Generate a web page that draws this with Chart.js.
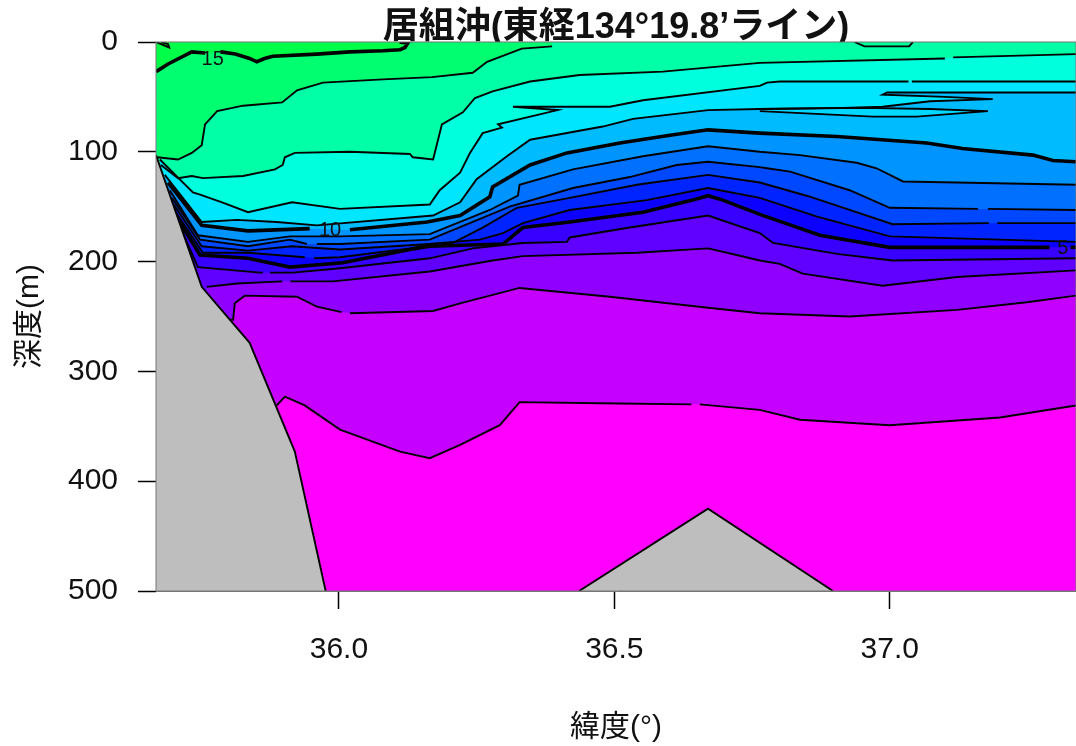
<!DOCTYPE html>
<html>
<head>
<meta charset="utf-8">
<title>居組沖</title>
<script src="https://cdn.jsdelivr.net/npm/chart.js@4"></script>
<style>
  html, body { margin: 0; padding: 0; background: #fff; }
  canvas { display: block; }
</style>
</head>
<body>
<canvas id="sectionChart" width="1076" height="746"></canvas>
<script>
// Isotherms: [latitude, depth] pairs
const t16 = [[35.678,0],[35.690,2],[35.692,5],[35.668,0]];
const t15 = [[35.668,27],[35.690,20],[35.733,9],[35.757,10],[35.785,9],[35.812,11],[35.838,15],[35.851,18],[35.865,15],[35.880,13],[35.960,11],[36.020,9],[36.080,8],[36.111,7],[36.120,5],[36.125,1],[36.110,0],[35.668,0]];
const t14 = [[35.670,105],[35.708,107],[35.733,101],[35.751,94],[35.757,75],[35.779,63],[35.826,58],[35.897,55],[35.924,44],[35.971,37],[36.080,34],[36.169,32],[36.243,28],[36.269,18],[36.332,6],[36.387,4],[36.387,0],[35.668,0]];
const t13 = [[35.677,112],[35.708,124],[35.733,122],[35.753,124],[35.826,122],[35.884,116],[35.898,112],[35.902,105],[35.920,101],[36.020,100],[36.129,102],[36.134,105],[36.171,107],[36.187,75],[36.225,64],[36.247,51],[36.279,45],[36.347,36],[36.437,30],[36.588,27],[36.764,19],[37.100,15],[37.115,14],[37.338,11]];
const t12 = [[35.675,107],[35.735,137],[35.748,139],[35.788,146],[35.835,155],[35.915,146],[36.002,152],[36.165,148],[36.183,135],[36.220,119],[36.238,101],[36.261,83],[36.296,78],[36.289,75],[36.397,62],[36.316,59],[36.492,59],[36.552,53],[36.764,40],[36.777,37],[36.800,36],[37.000,36],[37.034,36],[37.040,36],[37.338,36]];
const t11 = [[35.684,121],[35.751,164],[35.815,162],[35.887,164],[35.960,167],[36.171,158],[36.220,146],[36.250,125],[36.305,104],[36.347,89],[36.479,77],[36.534,70],[36.670,62],[36.764,61],[36.915,60],[36.987,59],[37.073,54],[37.187,52],[37.100,50],[36.987,48],[36.995,46],[37.145,46],[37.241,46],[37.338,46]];
const pocket11 = [[36.764,63],[36.969,68],[37.049,68],[37.178,63],[37.073,61],[36.951,60],[36.764,61]];
const lens = [[36.936,0],[36.954,4],[37.035,4],[37.042,0]];
const t10 = [[35.690,128],[35.751,167],[35.835,172],[35.947,170],[36.002,171],[36.020,171],[36.160,164],[36.220,158],[36.274,141],[36.279,132],[36.347,112],[36.414,101],[36.510,92],[36.601,85],[36.670,80],[36.764,83],[36.904,86],[37.067,92],[37.132,97],[37.260,103],[37.296,108],[37.338,109]];
const t9 = [[35.693,135],[35.744,176],[35.835,182],[35.911,177],[36.002,177],[36.165,175],[36.274,153],[36.325,140],[36.328,130],[36.425,116],[36.552,104],[36.670,95],[36.764,100],[36.837,103],[36.940,110],[36.976,115],[37.024,127],[37.338,130]];
const t8 = [[35.697,142],[35.748,180],[35.835,186],[35.911,180],[35.942,184],[35.960,184],[36.002,184],[36.165,180],[36.310,150],[36.425,133],[36.528,123],[36.613,112],[36.670,109],[36.764,114],[36.777,115],[36.819,118],[36.927,135],[37.000,151],[37.160,152],[37.178,152],[37.338,153]];
const t7 = [[35.700,148],[35.751,186],[35.835,190],[35.915,186],[36.002,189],[36.165,184],[36.207,183],[36.261,169],[36.323,151],[36.419,142],[36.541,130],[36.670,121],[36.764,128],[36.849,140],[36.904,149],[37.005,166],[37.180,165],[37.195,165],[37.338,165]];
const t6 = [[35.705,156],[35.753,192],[35.835,192],[35.938,196],[35.955,197],[36.002,196],[36.129,188],[36.165,184],[36.256,180],[36.298,174],[36.334,165],[36.419,153],[36.559,144],[36.670,133],[36.764,142],[36.868,159],[37.000,177],[37.338,182]];
const t5 = [[35.710,163],[35.748,194],[35.835,197],[35.911,205],[36.007,201],[36.129,189],[36.165,186],[36.298,184],[36.334,169],[36.419,164],[36.552,155],[36.642,144],[36.670,140],[36.697,144],[36.764,157],[36.873,176],[37.000,187],[37.290,187],[37.328,187],[37.338,187]];
const t4 = [[35.715,172],[35.744,205],[35.857,210],[35.862,210],[35.875,210],[35.917,210],[36.002,206],[36.165,197],[36.243,188],[36.334,183],[36.414,182],[36.419,178],[36.528,169],[36.670,158],[36.764,174],[36.788,183],[36.904,193],[37.005,199],[37.338,197]];
const t3 = [[35.760,223],[35.815,220],[35.897,218],[35.912,218],[35.989,218],[36.165,209],[36.279,199],[36.334,195],[36.541,192],[36.670,188],[36.722,194],[36.764,199],[36.800,202],[36.842,211],[36.987,222],[37.122,214],[37.338,208]];
const t2 = [[35.800,253],[35.808,253],[35.811,238],[35.829,231],[35.924,232],[35.960,241],[36.005,246],[36.020,247],[36.171,245],[36.220,238],[36.328,224],[36.492,232],[36.670,242],[36.764,247],[36.927,250],[37.122,244],[37.249,237],[37.338,231]];
const t1 = [[35.870,331],[35.887,331],[35.902,323],[35.938,331],[36.002,353],[36.111,373],[36.165,379],[36.220,367],[36.292,349],[36.328,328],[36.474,329],[36.640,330],[36.655,330],[36.764,335],[36.837,344],[37.000,349],[37.200,342],[37.338,331]];
const seaSurface = [[35.668,0],[37.338,0]];

// Sea bed
const slopeBed = [[35.668,103],[35.751,223],[35.838,274],[35.920,373],[35.976,500],[35.668,500],[35.668,103]];
const ridgeBed = [[36.436,500],[36.670,425],[36.897,500],[36.436,500]];

// Breaks in the isotherms, latitude from / to
const breaks15 = [[35.757, 35.785]];
const breaks13 = [[37.100, 37.115]];
const breaks12 = [[37.034, 37.040]];
const breaks10 = [[35.947, 36.020]];
const breaks8 = [[35.942, 35.960], [37.160, 37.178]];
const breaks7 = [[37.180, 37.195]];
const breaks6 = [[35.938, 35.955]];
const breaks5 = [[37.290, 37.328]];
const breaks4 = [[35.862, 35.875]];
const breaks3 = [[35.897, 35.912]];
const breaks2 = [[36.005, 36.020]];
const breaks1 = [[36.640, 36.655]];

const yTicks = [0, 100, 200, 300, 400, 500];
const xTicks = [36.0, 36.5, 37.0];
const contourLabels = [
  { text: '15', lat: 35.771, depth: 16 },
  { text: '10', lat: 35.984, depth: 172 },
  { text: '5', lat: 37.314, depth: 188 }
];

function xy(pairs) {
  return pairs.map(p => ({ x: p[0], y: p[1] }));
}

function fillLayer(pairs, fill, color) {
  return {
    data: xy(pairs),
    showLine: true,
    tension: 0,
    pointRadius: 0,
    borderWidth: 0,
    backgroundColor: color,
    fill: fill
  };
}

function strokeLayer(pairs, thick, breaks) {
  return {
    data: xy(pairs),
    showLine: true,
    tension: 0,
    pointRadius: 0,
    borderColor: '#000',
    borderWidth: thick ? 3.6 : 1.9,
    fill: false,
    segment: {
      borderColor: ctx => {
        const a = ctx.p0.parsed;
        const b = ctx.p1.parsed;
        if ((a.y === 0 && b.y === 0) || (a.y === 500 && b.y === 500) || a.x === b.x) return 'transparent';
        for (const r of (breaks || [])) {
          if (a.x >= r[0] && b.x <= r[1]) return 'transparent';
        }
        return undefined;
      }
    }
  };
}

const below = { value: 500 };
const datasets = [
  fillLayer(seaSurface, below, '#00ffa6'),
  fillLayer(t14, 'shape', '#00ff70'),
  fillLayer(t15, 'shape', '#00ff48'),
  fillLayer(t16, 'shape', '#00ff20'),
  fillLayer(lens, 'shape', '#00ff98'),
  fillLayer(t13, below, '#00ffdc'),
  fillLayer(t12, below, '#00e6ff'),
  fillLayer(t11, below, '#00bcff'),
  fillLayer(pocket11, 'shape', '#00d8ff'),
  fillLayer(t10, below, '#0094ff'),
  fillLayer(t9, below, '#0070ff'),
  fillLayer(t8, below, '#0048ff'),
  fillLayer(t7, below, '#0024ff'),
  fillLayer(t6, below, '#0c00ff'),
  fillLayer(t5, below, '#3800ff'),
  fillLayer(t4, below, '#6000ff'),
  fillLayer(t3, below, '#9000ff'),
  fillLayer(t2, below, '#c600ff'),
  fillLayer(t1, below, '#ff00ff'),
  strokeLayer(t16, false),
  strokeLayer(t15, true, breaks15),
  strokeLayer(t14, false),
  strokeLayer(lens, false),
  strokeLayer(t13, false, breaks13),
  strokeLayer(t12, false, breaks12),
  strokeLayer(t11, false),
  strokeLayer(pocket11, false),
  strokeLayer(t10, true, breaks10),
  strokeLayer(t9, false),
  strokeLayer(t8, false, breaks8),
  strokeLayer(t7, false, breaks7),
  strokeLayer(t6, false, breaks6),
  strokeLayer(t5, true, breaks5),
  strokeLayer(t4, false, breaks4),
  strokeLayer(t3, false, breaks3),
  strokeLayer(t2, false, breaks2),
  strokeLayer(t1, false, breaks1),
  fillLayer(slopeBed, 'shape', '#bebebe'),
  fillLayer(ridgeBed, 'shape', '#bebebe'),
  strokeLayer(slopeBed, false),
  strokeLayer(ridgeBed, false)
];
// first layers get painted first
datasets.forEach((d, i) => { d.order = datasets.length - i; });

const sectionOverlay = {
  id: 'sectionOverlay',
  afterDatasetsDraw(chart) {
    const ctx = chart.ctx;
    const x = chart.scales.x;
    const y = chart.scales.y;
    const area = chart.chartArea;
    ctx.save();
    ctx.font = '20px "Liberation Sans"';
    ctx.fillStyle = '#111';
    ctx.textAlign = 'center';
    ctx.textBaseline = 'middle';
    contourLabels.forEach(l => {
      ctx.fillText(l.text, x.getPixelForValue(l.lat), y.getPixelForValue(l.depth));
    });
    ctx.strokeStyle = '#777';
    ctx.lineWidth = 1;
    ctx.strokeRect(area.left, area.top, area.right - area.left, area.bottom - area.top);
    ctx.restore();
  }
};

new Chart(document.getElementById('sectionChart'), {
  type: 'scatter',
  data: { datasets: datasets },
  plugins: [sectionOverlay],
  options: {
    responsive: false,
    animation: false,
    devicePixelRatio: 1,
    layout: { padding: 0 },
    plugins: {
      legend: { display: false },
      tooltip: { enabled: false },
      title: {
        display: true,
        fullSize: false,
        text: '居組沖(東経134°19.8’ライン)',
        color: '#111',
        font: { family: '"Liberation Sans","Noto Sans CJK JP"', size: 36, weight: 'bold', lineHeight: 1 },
        padding: { top: 10, bottom: -4 }
      }
    },
    scales: {
      x: {
        type: 'linear',
        min: 35.668,
        max: 37.338,
        afterFit(scale) { scale.height = 155; },
        afterBuildTicks(scale) { scale.ticks = xTicks.map(v => ({ value: v })); },
        grid: { drawOnChartArea: false, tickLength: 18, tickColor: '#000', tickWidth: 1.5 },
        border: { color: '#777' },
        ticks: {
          color: '#111',
          padding: 23,
          maxRotation: 0,
          font: { family: '"Liberation Sans"', size: 30 },
          callback: v => v.toFixed(1)
        },
        title: {
          display: true,
          text: '緯度(°)',
          color: '#111',
          font: { family: '"Liberation Sans","Noto Sans CJK JP"', size: 30 },
          padding: { top: 9, bottom: 0 }
        }
      },
      y: {
        type: 'linear',
        reverse: true,
        min: 0,
        max: 500,
        afterFit(scale) { scale.width = 156; },
        afterBuildTicks(scale) { scale.ticks = yTicks.map(v => ({ value: v })); },
        grid: { drawOnChartArea: false, tickLength: 18, tickColor: '#000', tickWidth: 1.5 },
        border: { color: '#777' },
        ticks: {
          color: '#111',
          padding: 20,
          font: { family: '"Liberation Sans"', size: 30 },
          callback: v => String(v)
        },
        title: {
          display: true,
          text: '深度(m)',
          color: '#111',
          font: { family: '"Liberation Sans","Noto Sans CJK JP"', size: 30 },
          padding: { top: 12, bottom: 0 }
        }
      }
    }
  }
});
</script>
</body>
</html>
